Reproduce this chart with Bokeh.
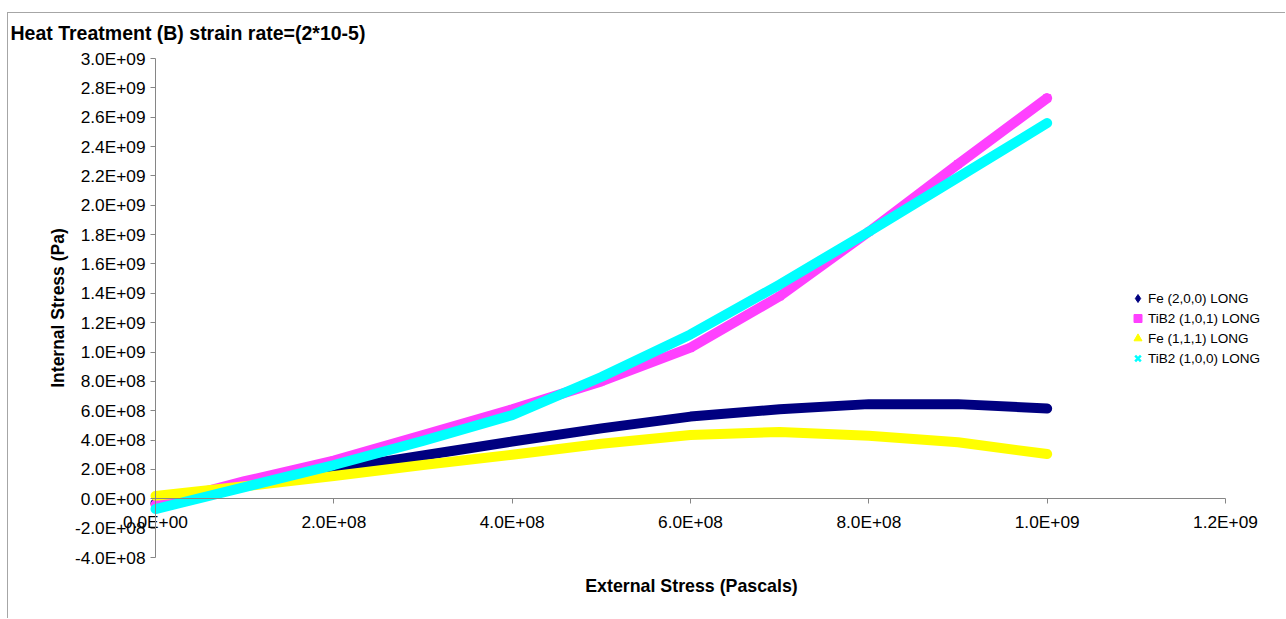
from bokeh.plotting import figure
from bokeh.models import (FixedTicker, CustomJSTickFormatter, Legend, LegendItem, Range1d, Label)
from bokeh.embed import file_html
from bokeh.resources import INLINE

# ---- data ----
external_stress = [0, 1e8, 2e8, 3e8, 4e8, 5e8, 6e8, 7e8, 8e8, 9e8, 1e9]
fe_200_long = [-0.3e8, 0.9e8, 2.0e8, 2.95e8, 3.9e8, 4.8e8, 5.6e8, 6.1e8, 6.45e8, 6.45e8, 6.15e8]
tib2_101_long = [-0.4e8, 1.2e8, 2.6e8, 4.35e8, 6.1e8, 8.0e8, 10.3e8, 13.8e8, 18.2e8, 22.8e8, 27.3e8]
fe_111_long = [0.2e8, 0.85e8, 1.55e8, 2.3e8, 3.0e8, 3.75e8, 4.35e8, 4.55e8, 4.3e8, 3.85e8, 3.05e8]
tib2_100_long = [-0.7e8, 0.8e8, 2.3e8, 3.95e8, 5.7e8, 8.3e8, 11.2e8, 14.6e8, 18.2e8, 21.9e8, 25.6e8]

series_names = ["Fe (2,0,0) LONG", "TiB2 (1,0,1) LONG", "Fe (1,1,1) LONG", "TiB2 (1,0,0) LONG"]
series_values = [fe_200_long, tib2_101_long, fe_111_long, tib2_100_long]
series_colors = ["#000080", "#FF40FF", "#FFFF00", "#00FFFF"]
series_markers = ["diamond", "square", "triangle", "x"]

y_ticks = [-4e8, -2e8, 0, 2e8, 4e8, 6e8, 8e8, 1e9, 1.2e9, 1.4e9, 1.6e9, 1.8e9, 2.0e9,
           2.2e9, 2.4e9, 2.6e9, 2.8e9, 3.0e9]
x_ticks = [0, 2e8, 4e8, 6e8, 8e8, 1e9, 1.2e9]
x_axis_max = 1.2e9
y_axis_min, y_axis_max = -4e8, 3e9

title_text = "Heat Treatment (B) strain rate=(2*10-5)"
x_label_text = "External Stress (Pascals)"
y_label_text = "Internal Stress (Pa)"

FONT = "Liberation Sans"
W, H = 1278, 606

# The frame fills the whole figure; the axes sit at the data origin (fixed_location)
# and are limited with bounds, so nothing is clipped at the frame edges.
PX_PER_X = 1070 / x_axis_max          # the 0..1.2E+09 axis is 1070 px long
PX_PER_Y = 499 / (y_axis_max - y_axis_min)
x_start = -147 / PX_PER_X
x_end = (W - 147) / PX_PER_X
y_end = y_axis_max + 45 / PX_PER_Y
y_start = y_axis_min - (H - 45 - 499) / PX_PER_Y

p = figure(width=W, height=H, output_backend="svg", toolbar_location=None, title=None,
           x_range=Range1d(x_start, x_end), y_range=Range1d(y_start, y_end),
           min_border_left=0, min_border_right=0, min_border_top=0, min_border_bottom=0)
p.styles = {"margin-top": "12px", "margin-left": "7px",
            "border-top": "1px solid #a6a6a6", "border-left": "1px solid #a6a6a6"}

p.outline_line_color = None
p.xgrid.visible = False
p.ygrid.visible = False
p.background_fill_color = "white"

fmt = CustomJSTickFormatter(code="""
let s = tick.toExponential(1);
let parts = s.split('e');
let e = parts[1];
let sign = e[0];
let d = e.slice(1);
if (d.length < 2) { d = '0' + d; }
return parts[0] + 'E' + sign + d;
""")

for ax in (p.xaxis[0], p.yaxis[0]):
    ax.formatter = fmt
    ax.axis_line_color = "#868686"
    ax.major_tick_line_color = "#868686"
    ax.minor_tick_line_color = None
    ax.major_label_text_font = FONT
    ax.major_label_text_font_size = "17.3px"
    ax.major_label_text_color = "black"
    ax.axis_label_text_font = FONT
    ax.axis_label_text_font_size = "17.5px"
    ax.axis_label_text_font_style = "bold"
    ax.axis_label_text_color = "black"
    ax.major_tick_in = 0
    ax.major_tick_out = 5

p.xaxis.ticker = FixedTicker(ticks=x_ticks)
p.yaxis.ticker = FixedTicker(ticks=y_ticks)
p.xaxis.fixed_location = 0
p.yaxis.fixed_location = 0
p.xaxis.bounds = (0, x_axis_max)
p.yaxis.bounds = (y_axis_min, y_axis_max)
p.yaxis.axis_label = y_label_text
p.yaxis.axis_label_standoff = 4
p.xaxis.major_label_standoff = 8
p.yaxis.major_label_standoff = 5

# chart title and x-axis title as text in screen space
p.add_layout(Label(x=2, y=H - 19, x_units="screen", y_units="screen", text=title_text,
                   text_font=FONT, text_font_size="19.5px", text_font_style="bold",
                   text_color="black", text_baseline="middle", text_align="left"))
p.add_layout(Label(x=683, y=H - 572, x_units="screen", y_units="screen", text=x_label_text,
                   text_font=FONT, text_font_size="17.8px", text_font_style="bold",
                   text_color="black", text_baseline="middle", text_align="center"))

items = []
for name, vals, col, mk in zip(series_names, series_values, series_colors, series_markers):
    # markers first (hidden under the thick line; they feed the legend)
    if mk == "x":
        r = p.scatter(external_stress, vals, marker=mk, size=7, line_color=col, line_width=2.5)
    else:
        r = p.scatter(external_stress, vals, marker=mk, size=7, fill_color=col, line_color=col)
    items.append(LegendItem(label=name, renderers=[r]))

for name, vals, col in zip(series_names, series_values, series_colors):
    p.line(external_stress, vals, line_color=col, line_width=10, line_join="round", line_cap="round")

legend = Legend(items=items, location=(1119, 251), border_line_color=None,
                background_fill_alpha=0, label_text_font=FONT, label_text_font_size="13.5px",
                label_text_color="black",
                spacing=0, padding=0, margin=0, glyph_width=21, glyph_height=20, label_standoff=0,
                label_height=20)
p.add_layout(legend, "center")

open("out.html", "w").write(file_html(p, INLINE))
